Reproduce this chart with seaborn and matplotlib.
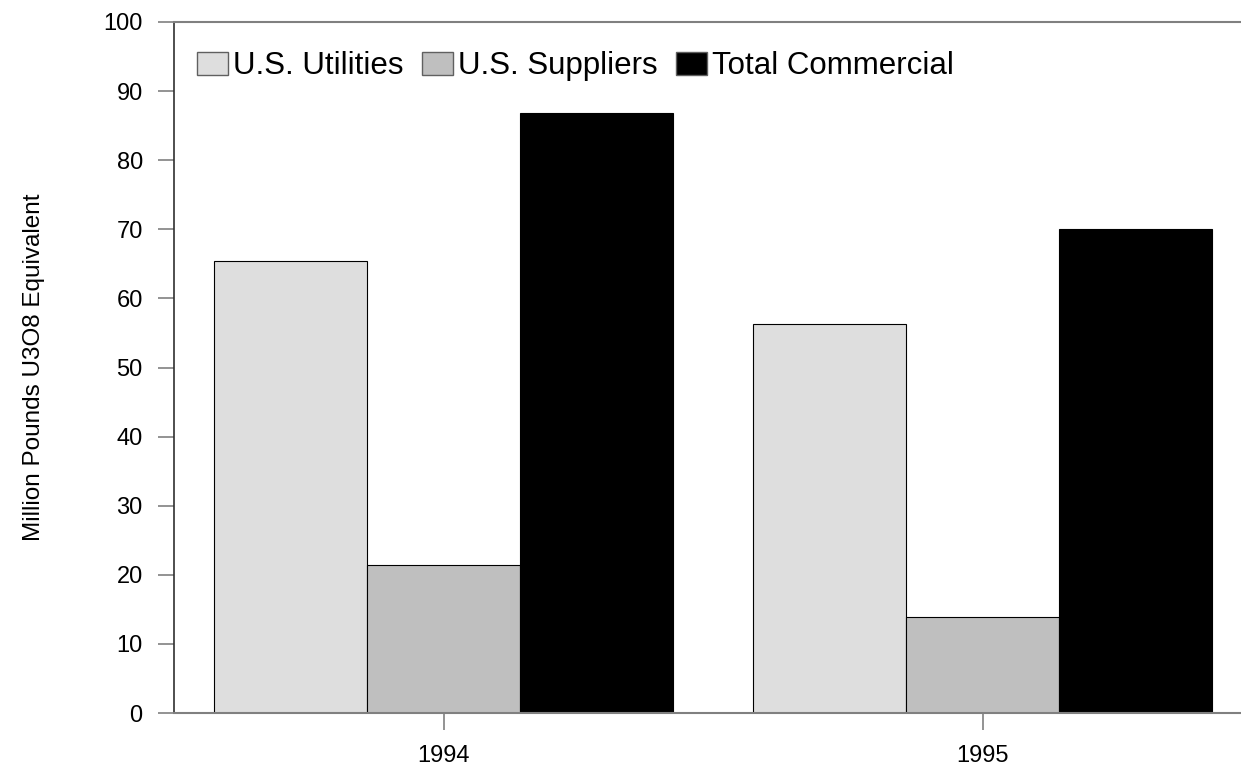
import matplotlib
matplotlib.use("Agg")
import matplotlib.pyplot as plt
import seaborn as sns
import pandas as pd

years = ["1994", "1995"]
series = ["U.S. Utilities", "U.S. Suppliers", "Total Commercial"]
utilities = [65.4, 56.3]
suppliers = [21.4, 13.9]
total_commercial = [86.8, 70.1]
colors = ["#dedede", "#bfbfbf", "#000000"]
yticks = [0, 10, 20, 30, 40, 50, 60, 70, 80, 90, 100]

rows = []
for name, vals in zip(series, [utilities, suppliers, total_commercial]):
    for y, v in zip(years, vals):
        rows.append({"Year": y, "Series": name, "Value": v})
df = pd.DataFrame(rows)

sns.set_style("white")
plt.rcParams["font.family"] = ["Liberation Sans", "DejaVu Sans"]
plt.rcParams["text.color"] = "black"
plt.rcParams["axes.labelcolor"] = "black"
plt.rcParams["xtick.labelcolor"] = "black"
plt.rcParams["ytick.labelcolor"] = "black"

fig = plt.figure(figsize=(12.41, 7.67), dpi=100)
ax = fig.add_axes([174 / 1241, (767 - 713) / 767, 1078 / 1241, 691 / 767])

sns.barplot(data=df, x="Year", y="Value", hue="Series", hue_order=series,
            order=years, palette=colors, width=0.85, ax=ax,
            edgecolor="black", linewidth=0.8, saturation=1, legend=True)

ax.set_xlim(-0.5, 1.5)
ax.set_ylim(0, 100)
ax.set_yticks(yticks)
ax.set_yticklabels([str(t) for t in yticks])
ax.set_xlabel("")
ax.set_ylabel("Million Pounds U3O8 Equivalent", fontsize=17.5, labelpad=42, color="black")

ax.spines["right"].set_visible(False)
ax.spines["top"].set_color("#808080")
ax.spines["top"].set_linewidth(1.5)
ax.spines["bottom"].set_color("#808080")
ax.spines["bottom"].set_linewidth(1.5)
ax.spines["left"].set_color("#303030")
ax.spines["left"].set_linewidth(1.2)

ax.tick_params(axis="y", direction="out", length=11.5, width=1.2, color="#808080",
               labelsize=17, pad=11, left=True, labelcolor="black")
ax.tick_params(axis="x", direction="out", length=12, width=1.2, color="#808080",
               labelsize=17, pad=11, bottom=True, labelcolor="black")

leg = ax.legend(loc="center left", bbox_to_anchor=(0.021, 0.936), ncol=3,
                frameon=False, fontsize=22.5, handlelength=1.0, handleheight=0.74,
                handletextpad=0.15, columnspacing=0.6, borderpad=0, borderaxespad=0)
for t in leg.get_texts():
    t.set_color("black")
for h in leg.legend_handles:
    h.set_edgecolor("#606060")
    h.set_linewidth(1.0)

fig.savefig("out.png", dpi=100)
